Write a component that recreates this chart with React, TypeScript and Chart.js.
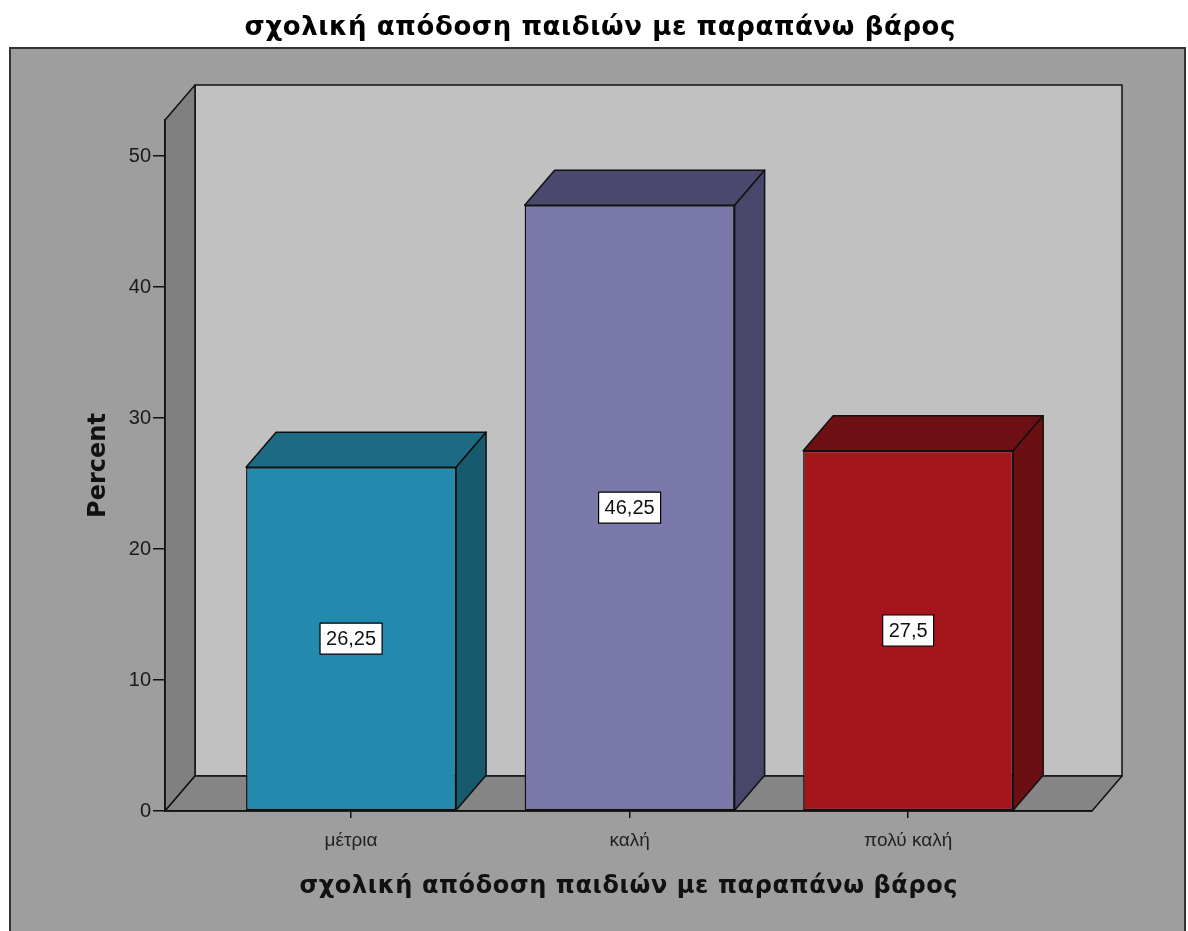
import React, { useEffect, useRef } from "react";
import { Chart, registerables } from "chart.js";

Chart.register(...registerables);

const chartTitle = "σχολική απόδοση παιδιών με παραπάνω βάρος";
const xAxisTitle = "σχολική απόδοση παιδιών με παραπάνω βάρος";
const yAxisTitle = "Percent";
const categories = ["μέτρια", "καλή", "πολύ καλή"];
const percentValues = [26.25, 46.25, 27.5];
const valueLabels = ["26,25", "46,25", "27,5"];
const frontColors = ["#2389ad", "#7a79aa", "#a5161c"];
const topColors = ["#1c6a84", "#4b4a6e", "#6e1013"];
const sideColors = ["#175a6e", "#48476a", "#6a1013"];

const DX = 30;
const DY = -35;

function spacedText(ctx: any, text: string, x: number, y: number, spacing: number) {
  ctx.letterSpacing = spacing + "px";
  ctx.fillText(text, x + spacing / 2, y);
  ctx.letterSpacing = "0px";
}

const scenePlugin = {
  id: "scene3d",
  beforeDraw(chart: any) {
    const ctx = chart.ctx as CanvasRenderingContext2D;
    const { left, right, top, bottom } = chart.chartArea;
    ctx.save();
    // page background
    ctx.fillStyle = "#ffffff";
    ctx.fillRect(0, 0, chart.width, chart.height);
    // outer frame
    ctx.fillStyle = "#9e9e9e";
    ctx.fillRect(10, 48, 1175, 900);
    ctx.strokeStyle = "#333333";
    ctx.lineWidth = 2;
    ctx.strokeRect(10, 48, 1175, 900);
    // title
    ctx.fillStyle = "#000000";
    ctx.font = "bold 26px 'DejaVu Sans'";
    ctx.textAlign = "center";
    ctx.textBaseline = "alphabetic";
    spacedText(ctx, chartTitle, 600, 35, 0.6);

    ctx.lineWidth = 1.5;
    ctx.strokeStyle = "#111111";
    ctx.lineJoin = "round";
    // back wall
    ctx.fillStyle = "#c1c1c1";
    ctx.beginPath();
    ctx.rect(left + DX, top + DY, right - left, bottom - top);
    ctx.fill();
    ctx.stroke();
    // left wall
    ctx.fillStyle = "#808080";
    ctx.beginPath();
    ctx.moveTo(left, bottom);
    ctx.lineTo(left, top);
    ctx.lineTo(left + DX, top + DY);
    ctx.lineTo(left + DX, bottom + DY);
    ctx.closePath();
    ctx.fill();
    ctx.stroke();
    // floor
    ctx.fillStyle = "#858585";
    ctx.beginPath();
    ctx.moveTo(left, bottom);
    ctx.lineTo(left + DX, bottom + DY);
    ctx.lineTo(right + DX, bottom + DY);
    ctx.lineTo(right, bottom);
    ctx.closePath();
    ctx.fill();
    ctx.stroke();

    // axis titles
    ctx.fillStyle = "#111111";
    ctx.font = "bold 24px 'DejaVu Sans'";
    ctx.textAlign = "center";
    spacedText(ctx, xAxisTitle, (left + right) / 2, 893, 0.6);
    ctx.save();
    ctx.translate(105, (top + bottom) / 2);
    ctx.rotate(-Math.PI / 2);
    ctx.font = "bold 24px 'DejaVu Sans'";
    ctx.fillText(yAxisTitle, 0, 0);
    ctx.restore();
    ctx.restore();
  },
  afterDatasetsDraw(chart: any) {
    const ctx = chart.ctx as CanvasRenderingContext2D;
    const meta = chart.getDatasetMeta(0);
    ctx.save();
    ctx.lineWidth = 1.5;
    ctx.strokeStyle = "#111111";
    ctx.lineJoin = "round";
    meta.data.forEach((el: any, i: number) => {
      const { x, y, base, width } = el.getProps(["x", "y", "base", "width"], true);
      const x1 = x - width / 2;
      const x2 = x + width / 2;
      // top face
      ctx.fillStyle = topColors[i];
      ctx.beginPath();
      ctx.moveTo(x1, y);
      ctx.lineTo(x1 + DX, y + DY);
      ctx.lineTo(x2 + DX, y + DY);
      ctx.lineTo(x2, y);
      ctx.closePath();
      ctx.fill();
      ctx.stroke();
      // side face
      ctx.fillStyle = sideColors[i];
      ctx.beginPath();
      ctx.moveTo(x2, y);
      ctx.lineTo(x2 + DX, y + DY);
      ctx.lineTo(x2 + DX, base + DY);
      ctx.lineTo(x2, base);
      ctx.closePath();
      ctx.fill();
      ctx.stroke();
    });
    // value labels
    ctx.font = "20px 'Liberation Sans'";
    ctx.textAlign = "center";
    ctx.textBaseline = "middle";
    meta.data.forEach((el: any, i: number) => {
      const { x, y, base } = el.getProps(["x", "y", "base"], true);
      const cy = (y + base) / 2;
      const text = valueLabels[i];
      const w = ctx.measureText(text).width + 12;
      const h = 31;
      ctx.fillStyle = "#ffffff";
      ctx.fillRect(x - w / 2, cy - h / 2, w, h);
      ctx.lineWidth = 1.2;
      ctx.strokeStyle = "#000000";
      ctx.strokeRect(x - w / 2, cy - h / 2, w, h);
      ctx.fillStyle = "#111111";
      ctx.fillText(text, x, cy + 1);
    });
    ctx.restore();
  },
};

export default function App() {
  const canvasRef = useRef<HTMLCanvasElement | null>(null);

  useEffect(() => {
    const canvas = canvasRef.current;
    if (!canvas) return;
    const chart = new Chart(canvas, {
      type: "bar",
      data: {
        datasets: [
          {
            label: yAxisTitle,
            data: categories.map((c, i) => ({ x: i, y: percentValues[i] })),
            backgroundColor: frontColors,
            borderColor: "#111111",
            borderWidth: 1.5,
            borderSkipped: false,
            categoryPercentage: 1,
            barPercentage: 0.754,
          },
        ],
      },
      options: {
        responsive: false,
        animation: false,
        devicePixelRatio: 1,
        layout: { padding: { top: 120, right: 96, bottom: 0, left: 0 } },
        plugins: {
          legend: { display: false },
          tooltip: { enabled: false },
          title: { display: false },
        },
        scales: {
          x: {
            type: "linear",
            offset: false,
            min: -0.668,
            max: 2.66,
            afterBuildTicks: (scale: any) => {
              scale.ticks = categories.map((_, i) => ({ value: i }));
            },
            afterFit: (scale: any) => {
              scale.height = 120;
            },
            ticks: {
              callback: (v: any) => categories[Math.round(Number(v))] ?? "",
              font: { family: "'Liberation Sans'", size: 19 },
              color: "#222222",
              padding: 11,
              maxRotation: 0,
              autoSkip: false,
            },
            grid: {
              offset: false,
              drawOnChartArea: false,
              drawTicks: true,
              tickLength: 7,
              color: "#111111",
              lineWidth: 1.5,
            },
            border: { display: true, color: "#111111", width: 1.5 },
          },
          y: {
            type: "linear",
            min: 0,
            max: 52.75,
            afterFit: (scale: any) => {
              scale.width = 165;
            },
            ticks: {
              stepSize: 10,
              includeBounds: false,
              font: { family: "'Liberation Sans'", size: 20 },
              color: "#1a1a1a",
              padding: 2,
            },
            grid: {
              drawOnChartArea: false,
              drawTicks: true,
              tickLength: 12,
              color: "#111111",
              lineWidth: 1.5,
            },
            border: { display: true, color: "#111111", width: 1.5 },
          },
        },
      },
      plugins: [scenePlugin],
    } as any);
    return () => chart.destroy();
  }, []);

  return (
    <div style={{ position: "absolute", left: 0, top: 0, width: 1188, height: 931 }}>
      <canvas ref={canvasRef} width={1188} height={931} style={{ width: 1188, height: 931, display: "block" }} />
    </div>
  );
}
